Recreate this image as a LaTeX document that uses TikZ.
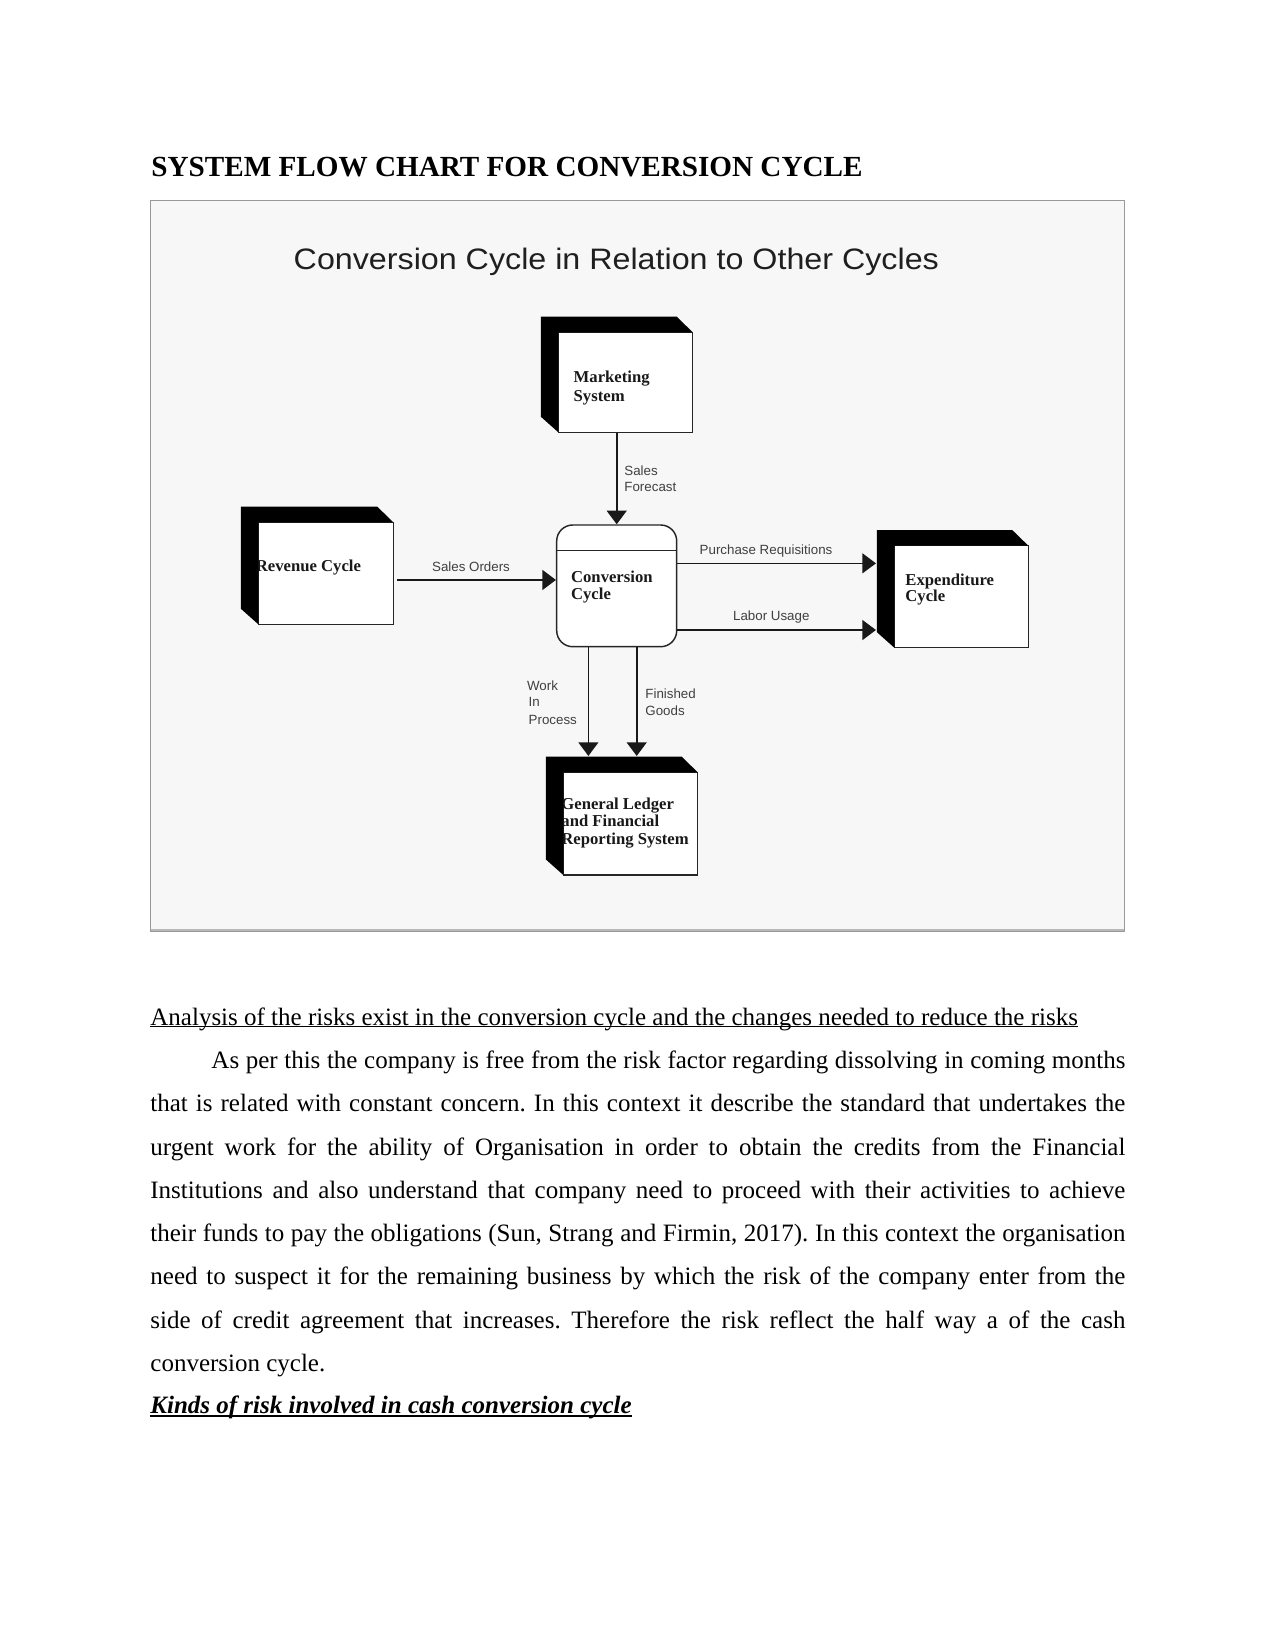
\documentclass[tikz,border=0pt]{standalone}
\usepackage{fontspec}
\setmainfont{Liberation Serif}
\setsansfont{Liberation Sans}
\usepackage{graphicx}
\usetikzlibrary{arrows.meta,fit}
\frenchspacing

\newsavebox\ulsave
\newcommand{\ulbox}[3]{\sbox\ulsave{#3}\rlap{\rule[#1]{\wd\ulsave}{#2}}\usebox\ulsave}
% black 3-D side of a block, front face (#1,#2)-(#3,#4) in px
\newcommand{\blockside}[4]{%
  \fill[black] ({#1-17.5},{#2-15.6}) -- ({#3-16},{#2-15.6}) -- (#3,#2) -- (#1,#2) -- (#1,#4) -- ({#1-17.5},{#4-15.6}) -- cycle;}

\tikzset{
  front/.style={draw=black!85, line width=0.7pt, fill=white, inner sep=0pt},
  boldlab/.style={font=\fontsize{8}{9}\selectfont\bfseries, inner sep=0pt, anchor=base west, text=black!90},
  flowlab/.style={font=\sffamily\fontsize{6.4}{7.5}\selectfont, inner sep=0pt, anchor=base west, text=black!75},
  flow/.style={line width=0.8pt, draw=black!90, -{Triangle[length=6.5pt,width=9.5pt]}},
}

\begin{document}
\begin{tikzpicture}[x=0.48pt,y=-0.48pt]
\useasboundingbox (0,0) rectangle (1275,1650);
\fill[white] (0,0) rectangle (1275,1650);

% page heading
\node[anchor=base west, inner sep=0pt, font=\fontsize{14}{16}\selectfont\bfseries] (head) at (151,176.7) {SYSTEM FLOW CHART FOR CONVERSION CYCLE};

% picture frame
\draw[draw=black!40, fill=black!3, line width=0.6pt] (150.5,200.5) rectangle (1124.5,931.5);
\draw[black!28, line width=1.4pt] (151,930) -- (1124,930);

\node[anchor=base west, inner sep=0pt, text=black!88, font=\sffamily\fontsize{14.2}{16}\selectfont] (title) at (293.3,269.3) {\scalebox{1.09}[1]{Conversion Cycle in Relation to Other Cycles}};

% front faces
\node[front, fit={(558.3,332.3) (692.7,432.3)}] (mkt) {};
\node[front, fit={(258.3,522.3) (393.3,624.3)}] (rev) {};
\node[front, fit={(894.3,545.7) (1028.3,647.7)}] (exp) {};
\node[front, fit={(563.3,772.3) (697.7,875)}] (gl) {};
\node[front, rounded corners=7.7pt, fit={(556.7,525) (676.7,646.7)}] (conv) {};
\draw[line width=0.7pt, draw=black!85] ([yshift=-12.5pt]conv.north west) -- ([yshift=-12.5pt]conv.north east);

% block texts
\node[boldlab] (mkt1) at (573.3,382.3) {Marketing};
\node[boldlab] (mkt2) at (573.3,401.7) {System};
\node[boldlab] (rev1) at (255.5,571.7) {Revenue Cycle};
\node[boldlab] (conv1) at (570.7,582.7) {Conversion};
\node[boldlab] (conv2) at (570.7,599) {Cycle};
\node[boldlab] (exp1) at (905,585) {Expenditure};
\node[boldlab] (exp2) at (905,601.7) {Cycle};
\node[boldlab] (gl1) at (561,809.3) {General Ledger};
\node[boldlab] (gl2) at (561,826) {and Financial};
\node[boldlab] (gl3) at (561,844) {Reporting System};

% black sides
\blockside{558.3}{332.3}{692.7}{432.3}
\blockside{258.3}{522.3}{393.3}{624.3}
\blockside{894.3}{545.7}{1028.3}{647.7}
\blockside{563.3}{772.3}{697.7}{875}

% connectors
\draw[flow] (mkt.south -| conv.north) -- (conv.north);
\draw[flow, shorten <=1.6pt] ([yshift=-3.2pt]rev.east) coordinate (so) -- (so -| conv.west);
\draw[flow, shorten >=8.45pt] ([yshift=10.8pt]conv.east) coordinate (pr) -- (pr -| exp.west);
\draw[flow, shorten >=8.45pt] ([yshift=-21.2pt]conv.east) coordinate (lu) -- (lu -| exp.west);
\draw[flow, shorten >=7.5pt] ([xshift=-13.6pt]conv.south) coordinate (wip) -- (wip |- gl.north);
\draw[flow, shorten >=7.5pt] ([xshift=9.6pt]conv.south) coordinate (fg) -- (fg |- gl.north);

% connector labels
\node[flowlab] (sf1) at (624,475.7) {Sales};
\node[flowlab] (sf2) at (624,491.7) {Forecast};
\node[flowlab] (sol) at (431.7,571.7) {Sales Orders};
\node[flowlab] (prl) at (699.3,554.3) {Purchase Requisitions};
\node[flowlab] (lul) at (732.7,620.7) {Labor Usage};
\node[flowlab] (wip1) at (526.7,690.7) {Work};
\node[flowlab] (wip2) at (528.3,706.7) {In};
\node[flowlab] (wip3) at (528.3,724) {Process};
\node[flowlab] (fg1) at (645,698.3) {Finished};
\node[flowlab] (fg2) at (645,715) {Goods};

% body text
\node[anchor=base west, inner sep=0pt, font=\fontsize{12}{14}\selectfont] (sub) at (150,1025)
  {\ulbox{-1.1pt}{0.5pt}{Analysis of the risks exist in the conversion cycle and the changes needed to reduce the risks}};

\node[anchor=north west, inner sep=0pt, text width=468pt, align=justify, font=\fontsize{12}{20.74}\selectfont\frenchspacing] (para) at (150,1047.5)
  {\noindent\rule{0pt}{10pt}\hspace*{29.3pt}As per this the company is free from the risk factor regarding dissolving in coming months\linebreak
  that is related with constant concern. In this context it describe the standard that undertakes the\linebreak
  urgent work for the ability of Organisation in order to obtain the credits from the Financial\linebreak
  Institutions and also understand that company need to proceed with their activities to achieve\linebreak
  their funds to pay the obligations (Sun, Strang and Firmin, 2017). In this context the organisation\linebreak
  need to suspect it for the remaining business by which the risk of the company enter from the\linebreak
  side of credit agreement that increases. Therefore the risk reflect the half way a of the cash\linebreak
  conversion cycle.};

\node[anchor=base west, inner sep=0pt, font=\fontsize{12}{14}\selectfont\bfseries\itshape] (kinds) at (150,1413)
  {\ulbox{-1.7pt}{0.7pt}{Kinds of risk involved in cash conversion cycle}};
\end{tikzpicture}
\end{document}
